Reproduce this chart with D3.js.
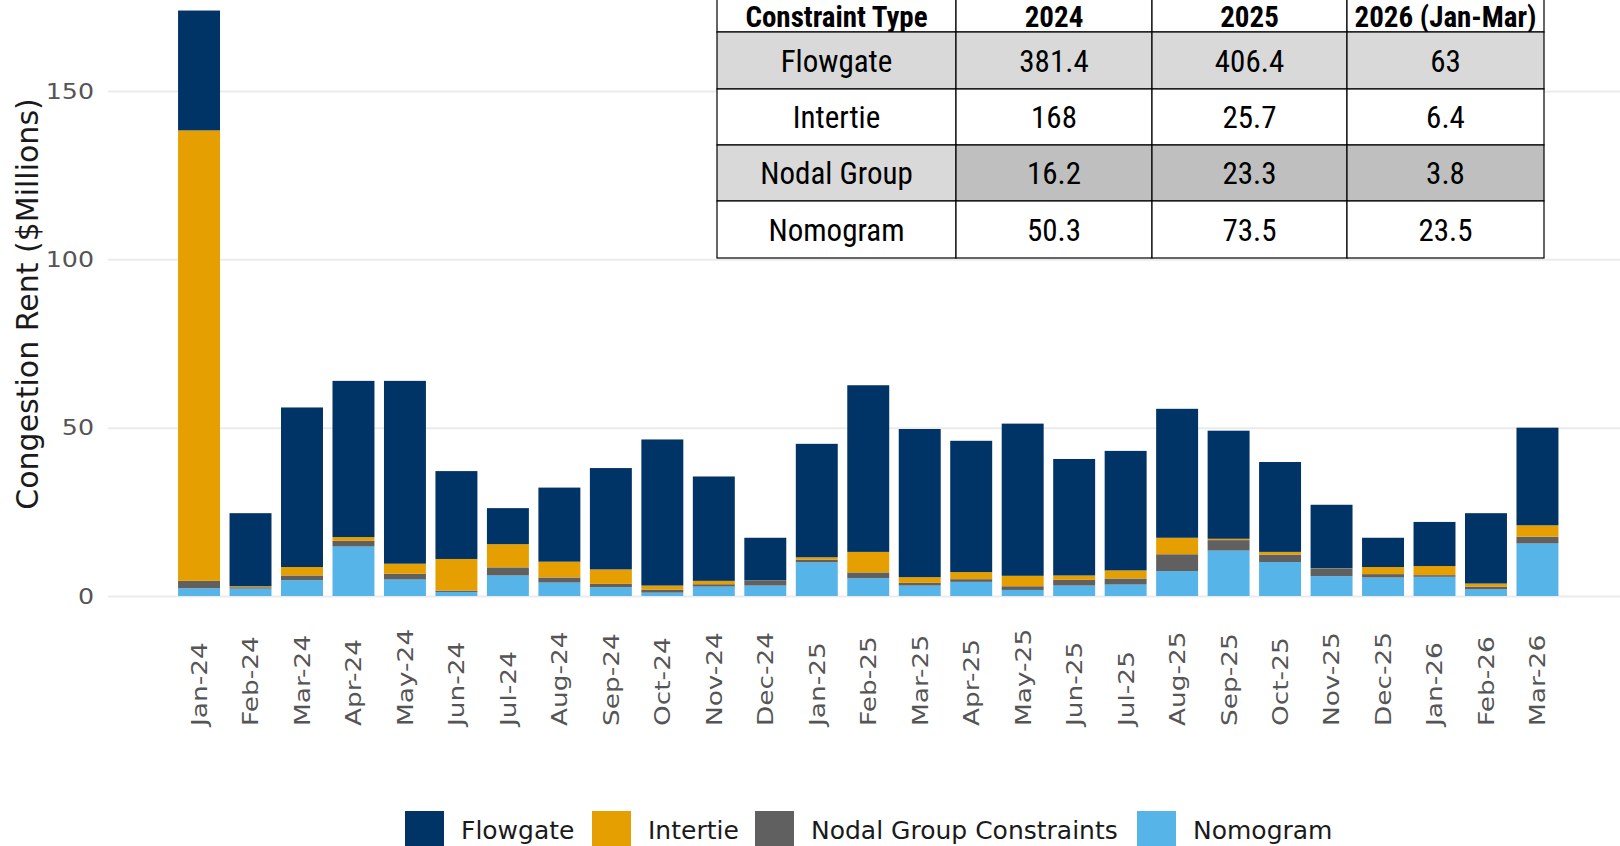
<!DOCTYPE html>
<html>
<head>
<meta charset="utf-8">
<script src="https://cdn.jsdelivr.net/npm/d3@7"></script>
<style>
  body { margin: 0; background: #fff; }
  svg { display: block; }
</style>
</head>
<body>
<svg id="chart" width="1620" height="846"></svg>
<script>
// monthly congestion rent, $Millions
var months = ["Jan-24","Feb-24","Mar-24","Apr-24","May-24","Jun-24","Jul-24","Aug-24","Sep-24","Oct-24","Nov-24","Dec-24",
              "Jan-25","Feb-25","Mar-25","Apr-25","May-25","Jun-25","Jul-25","Aug-25","Sep-25","Oct-25","Nov-25","Dec-25",
              "Jan-26","Feb-26","Mar-26"];
var flowgate   = [35.6,21.7,47.4,46.4,54.3,26.1,10.7,22.0,30.1,43.4,31.0,12.7, 33.7,49.5,44.0,39.0,45.2,34.6,35.5,38.3,32.1,26.7,18.9,8.7, 13.1,20.9,29.0];
var intertie   = [133.8,0.3,2.5,1.1,3.0,9.4,6.9,4.7,4.3,1.2,1.0,0.1, 0.7,6.1,1.7,2.1,3.1,1.3,2.4,4.9,0.4,0.8,0.1,2.1, 2.7,0.9,3.4];
var nodalGroup = [2.2,0.4,1.4,1.7,1.7,0.4,2.4,1.5,1.0,0.9,0.7,1.4, 0.8,1.7,0.8,0.8,1.1,1.7,1.8,5.0,3.1,2.2,2.2,1.0, 0.5,0.8,2.0];
var nomogram   = [2.3,2.2,4.7,14.7,4.9,1.2,6.1,4.0,2.6,1.0,2.8,3.1, 10.0,5.3,3.1,4.2,1.8,3.1,3.4,7.4,13.5,10.1,5.9,5.5, 5.7,2.0,15.6];

var seriesNames = ["Flowgate", "Intertie", "Nodal Group Constraints", "Nomogram"];
var seriesColors = ["#003366", "#E69F00", "#606060", "#56B4E9"];
var yTicks = [0, 50, 100, 150];

// summary table
var tableHeader = ["Constraint Type", "2024", "2025", "2026 (Jan-Mar)"];
var tableTypes = ["Flowgate", "Intertie", "Nodal Group", "Nomogram"];
var table2024 = ["381.4", "168", "16.2", "50.3"];
var table2025 = ["406.4", "25.7", "23.3", "73.5"];
var table2026 = ["63", "6.4", "3.8", "23.5"];

var svg = d3.select("#chart"),
    width = +svg.attr("width"),
    height = +svg.attr("height");

var plotLeft = 108, plotRight = width;

var x = d3.scaleBand()
    .domain(months)
    .range([173.3, 1563.2])
    .paddingInner(0.185)
    .paddingOuter(0.0925);

var y = d3.scaleLinear()
    .domain([0, 150])
    .range([596, 91]);

// gridlines + y labels
var yAxis = svg.append("g")
    .attr("transform", "translate(" + plotLeft + ",0)")
    .call(d3.axisLeft(y).tickValues(yTicks).tickSize(-(plotRight - plotLeft)).tickPadding(0));
yAxis.select(".domain").remove();
yAxis.selectAll(".tick line").attr("stroke", "#ebebeb").attr("stroke-width", 2);
yAxis.selectAll(".tick text")
    .attr("x", 0)
    .attr("transform", "translate(-14,0) scale(1.15,1)")
    .attr("fill", "#555")
    .style("font-family", "DejaVu Sans")
    .style("font-size", "22px");

// stacked bars
var rows = months.map(function(m, i) {
  return { month: m, flowgate: flowgate[i], intertie: intertie[i], nodal: nodalGroup[i], nomogram: nomogram[i] };
});
var keys = ["nomogram", "nodal", "intertie", "flowgate"];
var keyColor = { flowgate: seriesColors[0], intertie: seriesColors[1], nodal: seriesColors[2], nomogram: seriesColors[3] };
var stacked = d3.stack().keys(keys)(rows);

svg.append("g").selectAll("g")
    .data(stacked)
    .enter().append("g")
      .attr("fill", function(d) { return keyColor[d.key]; })
    .selectAll("rect")
    .data(function(d) { return d; })
    .enter().append("rect")
      .attr("x", function(d) { return x(d.data.month); })
      .attr("y", function(d) { return y(d[1]); })
      .attr("width", x.bandwidth())
      .attr("height", function(d) { return y(d[0]) - y(d[1]); });

// x labels, rotated and a bit stretched like the original
var xAxis = svg.append("g")
    .attr("transform", "translate(0,726)")
    .call(d3.axisBottom(x).tickSize(0).tickPadding(0));
xAxis.select(".domain").remove();
xAxis.selectAll(".tick text")
    .attr("transform", "rotate(-90) scale(1.2,1)")
    .attr("x", 0)
    .attr("y", 0)
    .attr("dy", "0.36em")
    .attr("text-anchor", "start")
    .attr("fill", "#555")
    .style("font-family", "DejaVu Sans")
    .style("font-size", "22px");

// y title
svg.append("text")
    .attr("transform", "translate(38,304) rotate(-90)")
    .attr("text-anchor", "middle")
    .attr("fill", "#1a1a1a")
    .style("font-family", "DejaVu Sans")
    .style("font-size", "30px")
    .text("Congestion Rent ($Millions)");

// legend
var legendX = [405, 592, 755, 1137];
var legend = svg.append("g");
seriesNames.forEach(function(name, i) {
  legend.append("rect")
      .attr("x", legendX[i]).attr("y", 811)
      .attr("width", 39).attr("height", 40)
      .attr("fill", seriesColors[i]);
  legend.append("text")
      .attr("x", legendX[i] + 56).attr("y", 839)
      .attr("fill", "#1a1a1a")
      .style("font-family", "DejaVu Sans")
      .style("font-size", "25px")
      .text(name);
});

// table (top right)
var colEdges = [717, 956, 1152, 1347, 1544];
var rowEdges = [-4, 32, 89, 145, 201, 258];
var tableFont = "'Liberation Sans Narrow', 'Arial Narrow', 'Roboto Condensed', 'Liberation Sans', sans-serif";
var cols = [tableTypes, table2024, table2025, table2026];
var gTable = svg.append("g");

function cellFill(r, c) {
  if (r === 1) return "#d9d9d9";
  if (r === 3) return c === 0 ? "#d9d9d9" : "#bfbfbf";
  return "#ffffff";
}

for (var r = 0; r < 5; r++) {
  for (var c = 0; c < 4; c++) {
    var x0 = colEdges[c], x1 = colEdges[c + 1], y0 = rowEdges[r], y1 = rowEdges[r + 1];
    gTable.append("rect")
        .attr("x", x0).attr("y", y0)
        .attr("width", x1 - x0).attr("height", y1 - y0)
        .attr("fill", cellFill(r, c))
        .attr("stroke", "#000")
        .attr("stroke-width", 1.2);
    var label = r === 0 ? tableHeader[c] : cols[c][r - 1];
    gTable.append("text")
        .attr("x", (x0 + x1) / 2)
        .attr("y", r === 0 ? 27 : (y0 + y1) / 2)
        .attr("dy", r === 0 ? 0 : "0.36em")
        .attr("text-anchor", "middle")
        .attr("fill", "#000")
        .style("font-family", tableFont)
        .style("font-weight", r === 0 ? "bold" : "normal")
        .style("font-size", r === 0 ? "29px" : "31px")
        .text(label);
  }
}
</script>
</body>
</html>
